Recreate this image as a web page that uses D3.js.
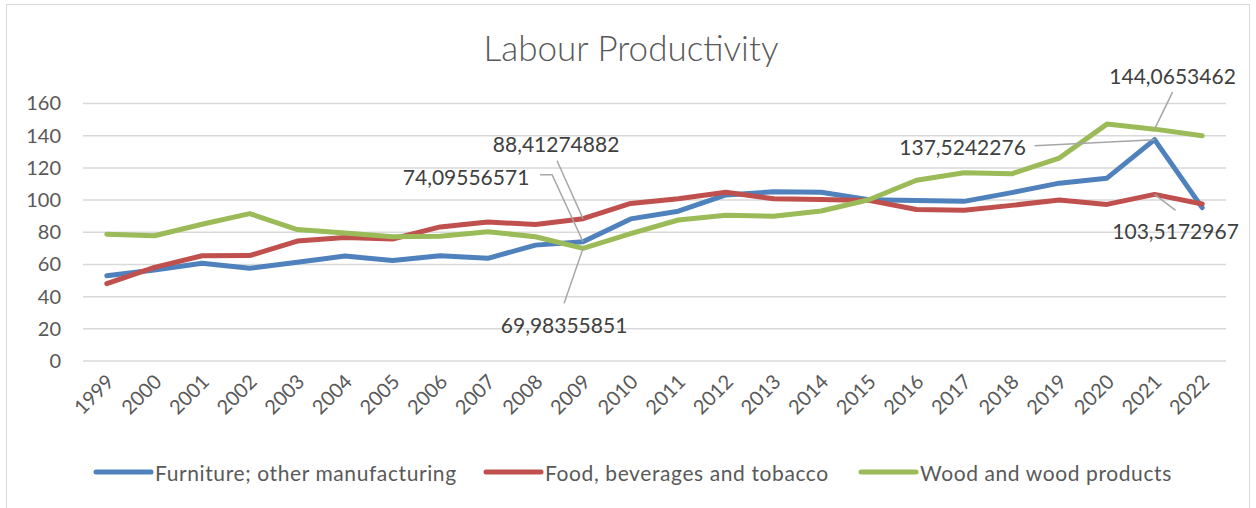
<!DOCTYPE html>
<html>
<head>
<meta charset="utf-8">
<script src="https://cdn.jsdelivr.net/npm/d3@7"></script>
<style>
  html, body { margin: 0; padding: 0; background: #fff; }
  svg { display: block; font-family: Lato, "Open Sans", sans-serif; }
</style>
</head>
<body>
<svg id="chart" width="1256" height="508"></svg>
<script>
const title = "Labour Productivity";
const years = ["1999","2000","2001","2002","2003","2004","2005","2006","2007","2008","2009","2010","2011","2012","2013","2014","2015","2016","2017","2018","2019","2020","2021","2022"];
const seriesNames = ["Furniture; other manufacturing", "Food, beverages and tobacco", "Wood and wood products"];
const furniture = [53.0, 56.5, 60.7, 57.6, 61.3, 65.2, 62.5, 65.4, 63.8, 72.0, 74.09556571, 88.3, 93.1, 103.2, 105.1, 104.8, 100.2, 99.8, 99.2, 104.6, 110.5, 113.6, 137.5242276, 95.3];
const food = [48.1, 58.2, 65.4, 65.5, 74.5, 76.8, 75.8, 83.3, 86.4, 84.8, 88.41274882, 97.9, 100.8, 104.9, 100.8, 100.3, 99.8, 94.1, 93.7, 96.7, 100.1, 97.3, 103.5172967, 97.6];
const wood = [78.8, 77.8, 85.0, 91.6, 81.7, 79.6, 77.2, 77.5, 80.3, 77.2, 69.98355851, 79.1, 87.6, 90.5, 90.0, 93.2, 100.2, 112.3, 117.0, 116.3, 126.1, 147.2, 144.0653462, 140.0];
const yTicks = [0, 20, 40, 60, 80, 100, 120, 140, 160];
const colors = ["#4F81BD", "#C0504D", "#9BBB59"];
// labelled points: series index, year
const labelled = [
  {s: 1, year: "2009", dx: -27, dy: -75, lead: [[-26, -58]]},
  {s: 0, year: "2009", dx: -117, dy: -65, lead: [[-43, -67], [-31, -67]]},
  {s: 2, year: "2009", dx: -19, dy: 76, lead: [[-19, 55]]},
  {s: 0, year: "2021", dx: -192, dy: 7, lead: [[-120, 6]]},
  {s: 2, year: "2021", dx: 18, dy: -54, lead: [[18, -37]]},
  {s: 1, year: "2021", dx: 21, dy: 36, lead: [[21, 16]]}
];

const allSeries = [furniture, food, wood];
const svg = d3.select("#chart");

// chart border
svg.append("rect").attr("x", 6.5).attr("y", 4.5).attr("width", 1243).attr("height", 510)
  .attr("fill", "#fff").attr("stroke", "#d9d9d9").attr("stroke-width", 1);

const x = d3.scalePoint().domain(years).range([83, 1226]).padding(0.5);
const y = d3.scaleLinear().domain([0, 160]).range([361, 103.5]);

// title
svg.append("text").attr("x", 631).attr("y", 61).attr("text-anchor", "middle")
  .attr("font-size", 35).attr("font-weight", 300).attr("fill", "#595959").text(title);

// gridlines
svg.append("g").selectAll("line").data(yTicks).join("line")
  .attr("x1", 83).attr("x2", 1226)
  .attr("y1", d => y(d)).attr("y2", d => y(d))
  .attr("stroke", "#d9d9d9").attr("stroke-width", 1.5);

// y axis labels
const yAxis = d3.axisLeft(y).tickValues(yTicks).tickSize(0).tickPadding(0);
const gy = svg.append("g").attr("transform", "translate(61,0)").call(yAxis);
gy.select(".domain").remove();
gy.selectAll("text").attr("font-size", 20).attr("fill", "#595959").attr("font-family", "Lato, sans-serif");

// x axis labels
const xAxis = d3.axisBottom(x).tickSize(0).tickPadding(0);
const gx = svg.append("g").attr("transform", "translate(0,361)").call(xAxis);
gx.select(".domain").remove();
gx.selectAll("text")
  .attr("font-size", 20).attr("fill", "#595959").attr("font-family", "Lato, sans-serif")
  .attr("text-anchor", "end")
  .attr("dy", null).attr("y", 0)
  .attr("transform", "translate(8,22) rotate(-45)");

// lines
const line = d3.line().x((d, i) => x(years[i])).y(d => y(d));
svg.append("g").selectAll("path").data(allSeries).join("path")
  .attr("d", d => line(d))
  .attr("fill", "none")
  .attr("stroke", (d, i) => colors[i])
  .attr("stroke-width", 5)
  .attr("stroke-linejoin", "round")
  .attr("stroke-linecap", "round");

// data labels
const fmt = v => String(v).replace(".", ",");
const lg = svg.append("g");
labelled.forEach(l => {
  const i = years.indexOf(l.year);
  const v = allSeries[l.s][i];
  const px = x(l.year), py = y(v);
  const pts = l.lead.map(p => [px + p[0], py + p[1]]).concat([[px, py]]);
  lg.append("path").attr("d", d3.line()(pts)).attr("fill", "none")
    .attr("stroke", "#a6a6a6").attr("stroke-width", 1.5);
  lg.append("text").attr("x", px + l.dx).attr("y", py + l.dy)
    .attr("text-anchor", "middle").attr("dominant-baseline", "central")
    .attr("font-size", 21).attr("fill", "#404040").text(fmt(v));
});

// legend
const legendX = [96, 486, 861];
const leg = svg.append("g").selectAll("g").data(seriesNames).join("g")
  .attr("transform", (d, i) => `translate(${legendX[i]},472)`);
leg.append("line").attr("x1", 0).attr("x2", 55).attr("y1", 0).attr("y2", 0)
  .attr("stroke", (d, i) => colors[i]).attr("stroke-width", 5).attr("stroke-linecap", "round");
leg.append("text").attr("x", 59).attr("y", 0).attr("dominant-baseline", "central")
  .attr("font-size", 21).attr("letter-spacing", 0.6).attr("fill", "#595959").text(d => d);
</script>
</body>
</html>
